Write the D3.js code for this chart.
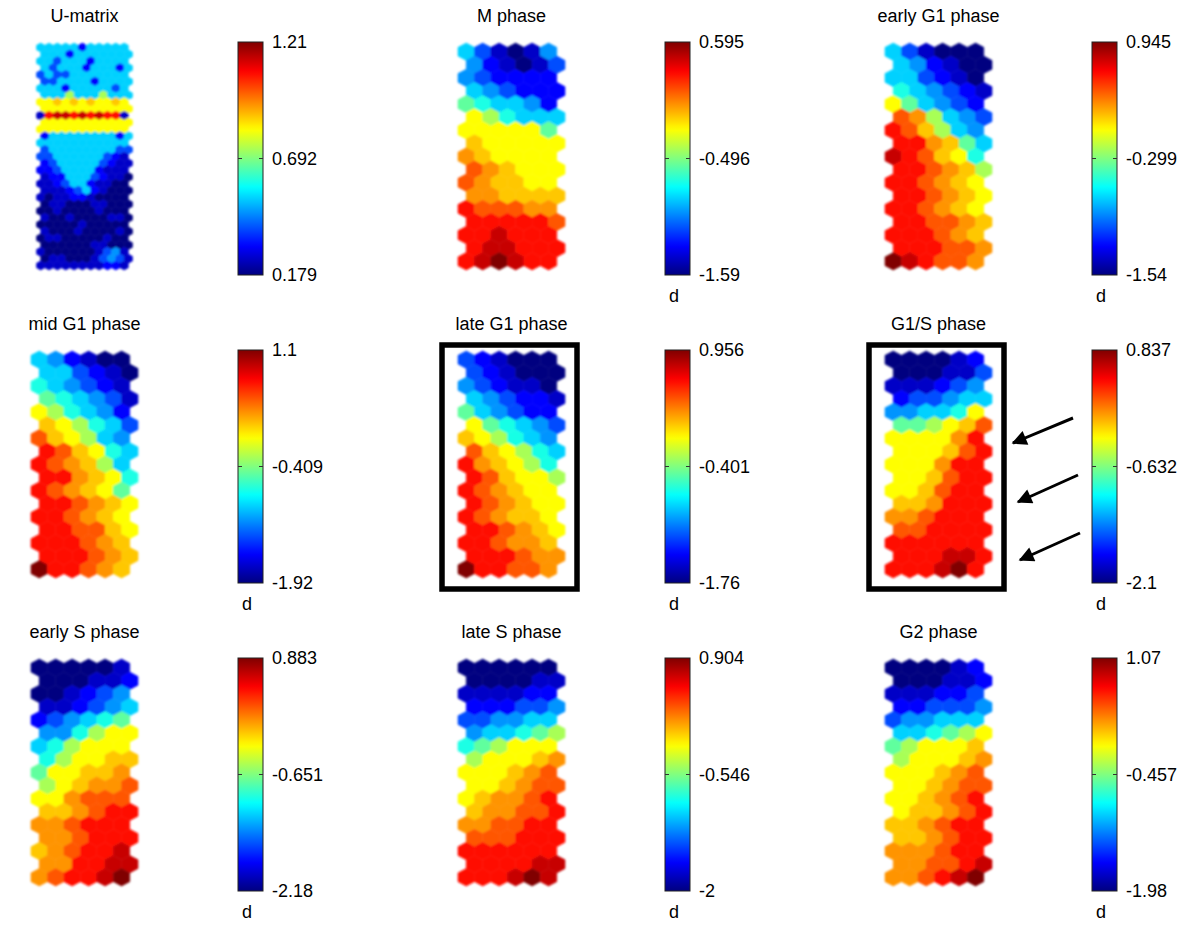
<!DOCTYPE html>
<html>
<head>
<meta charset="utf-8">
<script src="https://cdn.jsdelivr.net/npm/d3@7"></script>
<style>
  body { margin: 0; background: #fff; }
  text { font-family: "Liberation Sans", Arial, sans-serif; fill: #000; }
</style>
</head>
<body>
<svg id="chart" width="1200" height="932"></svg>
<script>
// panel titles and colour bar values
const titles = ["U-matrix", "M phase", "early G1 phase", "mid G1 phase", "late G1 phase",
                "G1/S phase", "early S phase", "late S phase", "G2 phase"];
const maxValues = [1.21, 0.595, 0.945, 1.1, 0.956, 0.837, 0.883, 0.904, 1.07];
const minValues = [0.179, -1.59, -1.54, -1.92, -1.76, -2.1, -2.18, -2, -1.98];
const maxLabels = ["1.21", "0.595", "0.945", "1.1", "0.956", "0.837", "0.883", "0.904", "1.07"];
const midLabels = ["0.692", "-0.496", "-0.299", "-0.409", "-0.401", "-0.632", "-0.651", "-0.546", "-0.457"];
const minLabels = ["0.179", "-1.59", "-1.54", "-1.92", "-1.76", "-2.1", "-2.18", "-2", "-1.98"];
const boxed = ["late G1 phase", "G1/S phase"];

// colour levels seen in the maps: hex digit -> share of the colour bar range
// (0 navy, 2 blue, 5 sky blue, 7 aqua, 9 yellow, b orange, d red, f dark red)
const levelFractions = [0, 0.07, 0.13, 0.2, 0.27, 0.33, 0.4, 0.47, 0.54, 0.625,
                        0.68, 0.73, 0.79, 0.86, 0.93, 1];

const uMatrix = [
  "55555255555", "55525555555", "55355525555", "53555255525", "35335555555",
  "33555525555", "55525555535", "55585558555", "99a9a9a99a9", "99999999999",
  "1deedededd1", "99999999999", "99999999999", "25555555525", "55555555555",
  "35555555533", "33555555321", "23555553211", "22355552111", "12255532110",
  "11235521100", "11123521000", "10112210000", "01100011000", "00100001000",
  "10010000110", "00000100000", "10001000010", "01100000100", "00000011000",
  "10000001341", "01100013431", "11111111221"
];
const mPhase = [
  "531014", "421013", "432222", "543222", "765542", "986555", "999997", "a99999",
  "ba9999", "cba999", "cbaa99", "bbaaaa", "dcccbb", "dddddc", "ddeddd", "deeddd", "defedd"
];
const earlyG1 = [
  "531000", "542100", "553210", "654321", "975432", "cb8543", "dca854", "ddba75",
  "edca96", "ddcba8", "ddcba9", "ddcba9", "ddcba9", "ddccba", "dddcba", "dddccb", "fedccb"
];
const midG1 = [
  "542100", "553210", "654321", "765431", "986542", "a98653", "ca9854", "dca965",
  "dcba85", "ddba96", "dcba97", "ddcba9", "ddcba9", "ddcca9", "dddcba", "dddcba", "fddcba"
];
const lateG1 = [
  "321000", "321000", "432110", "543221", "754322", "976543", "a98654", "ca9865",
  "dba986", "dca998", "dcba99", "dcba99", "dcbaa9", "ddcba9", "ddcbba", "dddcbb", "fddccb"
];
const g1s = [
  "000012", "000113", "111234", "233455", "445569", "7789ac", "9999bd", "999acd",
  "999bdd", "99acdd", "99acdd", "aabddd", "bbcddd", "ccdddd", "dddddd", "dddeed", "dddefd"
];
const earlyS = [
  "000001", "000112", "001234", "112345", "234567", "446899", "568999", "6899aa",
  "799aab", "89abbc", "99bccc", "aabcdd", "bbcddd", "bbcddd", "abcdde", "bbddee", "bcddef"
];
const lateS = [
  "000000", "000011", "111122", "222334", "334455", "455678", "678999", "8999ab",
  "999abc", "99abcc", "9abbcd", "abbccd", "bbccdd", "cccddd", "dddddd", "ddddee", "dddefe"
];
const g2 = [
  "000012", "000112", "111223", "223334", "344555", "556789", "78999a", "8999ab",
  "999abc", "99abcc", "99abcd", "9aabcd", "aabcdd", "aabcdd", "bbbcdd", "bbccde", "bbcdef"
];
const grids = [uMatrix, mPhase, earlyG1, midG1, lateG1, g1s, earlyS, lateS, g2];

// MATLAB style jet colour map
const jet = t => {
  const c = v => Math.max(0, Math.min(1, v));
  return d3.rgb(255 * c(1.5 - Math.abs(4 * t - 3)),
                255 * c(1.5 - Math.abs(4 * t - 2)),
                255 * c(1.5 - Math.abs(4 * t - 1))).toString();
};

const svg = d3.select("#chart");
const defs = svg.append("defs");
defs.append("filter").attr("id", "soft")
  .append("feGaussianBlur").attr("stdDeviation", 0.8);
const grad = defs.append("linearGradient").attr("id", "jetbar")
  .attr("x1", 0).attr("y1", 1).attr("x2", 0).attr("y2", 0);
d3.range(0, 1.0001, 0.02).forEach(t => grad.append("stop").attr("offset", t).attr("stop-color", jet(t)));

const colX = [84.5, 511.5, 938.5];
const rowTop = [43, 351, 659];
const mapH = 227;
const S = Math.sqrt(3) / 2, R = 1 / Math.sqrt(3);
const hexPts = [[0, -R], [0.5, -R / 2], [0.5, R / 2], [0, R], [-0.5, R / 2], [-0.5, -R / 2]];

titles.forEach((title, i) => {
  const cx = colX[i % 3], top = rowTop[Math.floor(i / 3)];
  const grid = grids[i];
  const nr = grid.length, nc = grid[0].length;
  const w = i === 0 ? 96 : 107;
  const x = d3.scaleLinear().domain([-0.5, nc]).range([cx - w / 2, cx + w / 2]);
  const y = d3.scaleLinear().domain([-R, (nr - 1) * S + R]).range([top, top + mapH]);
  const color = d3.scaleSequential(jet).domain([minValues[i], maxValues[i]]);

  const cells = [];
  grid.forEach((row, r) => row.split("").forEach((ch, c) => {
    const f = levelFractions[parseInt(ch, 16)];
    cells.push({ r, c, v: minValues[i] + f * (maxValues[i] - minValues[i]) });
  }));

  svg.append("g").attr("filter", "url(#soft)")
    .selectAll("path").data(cells).join("path")
    .attr("d", d => {
      const px = d.c + (d.r % 2 ? 0.5 : 0), py = d.r * S;
      return "M" + hexPts.map(p => [x(px + p[0]), y(py + p[1])].join(",")).join("L") + "Z";
    })
    .attr("fill", d => color(d.v))
    .attr("stroke", d => color(d.v))
    .attr("stroke-width", 0.6);

  svg.append("text").attr("x", cx).attr("y", top - 21)
    .attr("text-anchor", "middle").attr("font-size", 18).text(title);

  // colour bar
  const cbL = cx + 153.5, cbW = 25;
  const cy = d3.scaleLinear().domain([minValues[i], maxValues[i]]).range([top + 232, top - 1]);
  svg.append("rect").attr("x", cbL).attr("y", cy(maxValues[i]))
    .attr("width", cbW).attr("height", cy(minValues[i]) - cy(maxValues[i]))
    .attr("fill", "url(#jetbar)").attr("stroke", "#222").attr("stroke-width", 1);
  const mid = (maxValues[i] + minValues[i]) / 2;
  [[cbL, cbL + 4], [cbL + cbW - 4, cbL + cbW]].forEach(([a, b]) =>
    svg.append("line").attr("x1", a).attr("x2", b).attr("y1", cy(mid)).attr("y2", cy(mid))
      .attr("stroke", "#333").attr("stroke-width", 1));
  [[maxValues[i], maxLabels[i]], [mid, midLabels[i]], [minValues[i], minLabels[i]]].forEach(([v, lab]) =>
    svg.append("text").attr("x", cbL + cbW + 9).attr("y", cy(v)).attr("dy", "0.35em")
      .attr("font-size", 18).text(lab));
  if (i > 0) {
    svg.append("text").attr("x", cbL + 9).attr("y", top + 259)
      .attr("text-anchor", "middle").attr("font-size", 18).text("d");
  }

  if (boxed.includes(title)) {
    svg.append("rect").attr("x", cx - 69.5).attr("y", top - 6)
      .attr("width", 135).attr("height", 244)
      .attr("fill", "none").attr("stroke", "#000").attr("stroke-width", 5.5);
  }
});

// arrows pointing at the G1/S panel
defs.append("marker").attr("id", "head").attr("viewBox", "0 0 10 10")
  .attr("refX", 9).attr("refY", 5).attr("markerWidth", 6).attr("markerHeight", 5)
  .attr("orient", "auto").attr("markerUnits", "strokeWidth")
  .append("path").attr("d", "M0,0L10,5L0,10Z").attr("fill", "#000");
const arrowTails = [[1073, 418], [1078, 475], [1080, 533]];
const arrowTips = [[1013, 443], [1018, 502], [1020, 560]];
arrowTails.forEach((t, k) => {
  svg.append("line").attr("x1", t[0]).attr("y1", t[1])
    .attr("x2", arrowTips[k][0]).attr("y2", arrowTips[k][1])
    .attr("stroke", "#000").attr("stroke-width", 3).attr("marker-end", "url(#head)");
});
</script>
</body>
</html>
